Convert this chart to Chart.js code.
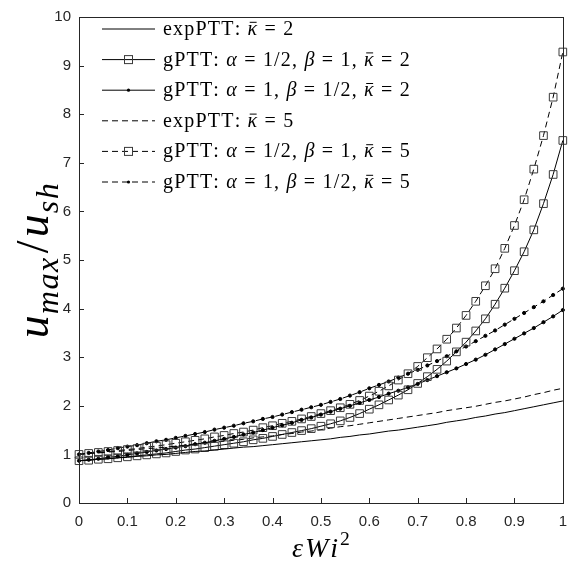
<!DOCTYPE html>
<html>
<head>
<meta charset="utf-8">
<script src="https://cdn.jsdelivr.net/npm/chart.js@4.4.1/dist/chart.umd.min.js"></script>
<style>
  html, body { margin: 0; padding: 0; background: #fff; }
</style>
</head>
<body>
<canvas id="grafico" width="577" height="565"></canvas>
<script>
// eps*Wi^2 grid (step 0.02)
const xValues = [0,0.02,0.04,0.06,0.08,0.1,0.12,0.14,0.16,0.18,0.2,0.22,0.24,0.26,0.28,0.3,0.32,0.34,0.36,0.38,
  0.4,0.42,0.44,0.46,0.48,0.5,0.52,0.54,0.56,0.58,0.6,0.62,0.64,0.66,0.68,0.7,0.72,0.74,0.76,0.78,
  0.8,0.82,0.84,0.86,0.88,0.9,0.92,0.94,0.96,0.98,1];

// u_max / u_sh
const expPTT_k2 = [0.87,0.88,0.90,0.91,0.93,0.94,0.96,0.97,0.99,1.00,
  1.02,1.04,1.06,1.07,1.09,1.11,1.13,1.15,1.16,1.18,
  1.20,1.22,1.24,1.26,1.28,1.30,1.32,1.35,1.37,1.40,
  1.42,1.45,1.48,1.50,1.53,1.56,1.59,1.62,1.66,1.69,
  1.72,1.76,1.79,1.83,1.86,1.90,1.94,1.98,2.02,2.06,2.10];
const gPTT_a05_k2 = [0.87,0.88,0.90,0.91,0.93,0.95,0.97,0.99,1.01,1.03,
  1.06,1.09,1.11,1.14,1.17,1.20,1.23,1.26,1.30,1.33,
  1.37,1.41,1.45,1.49,1.53,1.58,1.63,1.69,1.76,1.84,
  1.93,2.02,2.12,2.22,2.33,2.46,2.60,2.75,2.92,3.11,
  3.31,3.54,3.79,4.09,4.42,4.78,5.17,5.62,6.16,6.76,7.46];
const gPTT_a1_k2 = [0.87,0.89,0.91,0.94,0.96,0.99,1.02,1.05,1.08,1.11,
  1.14,1.17,1.21,1.24,1.28,1.32,1.36,1.41,1.45,1.50,
  1.55,1.60,1.65,1.71,1.76,1.82,1.88,1.94,2.00,2.06,
  2.12,2.18,2.25,2.31,2.38,2.45,2.53,2.61,2.69,2.77,
  2.86,2.95,3.05,3.16,3.27,3.38,3.49,3.60,3.72,3.84,3.97];
const expPTT_k5 = [1.00,1.02,1.03,1.05,1.06,1.08,1.10,1.12,1.13,1.15,
  1.17,1.19,1.21,1.23,1.25,1.27,1.29,1.31,1.34,1.36,
  1.38,1.41,1.43,1.46,1.48,1.51,1.54,1.57,1.59,1.62,
  1.65,1.68,1.71,1.74,1.77,1.80,1.83,1.86,1.90,1.93,
  1.96,1.99,2.03,2.07,2.10,2.14,2.18,2.23,2.27,2.32,2.36];
const gPTT_a05_k5 = [1.00,1.02,1.04,1.06,1.08,1.10,1.12,1.15,1.17,1.20,
  1.23,1.26,1.29,1.32,1.36,1.39,1.43,1.46,1.50,1.55,
  1.59,1.64,1.68,1.73,1.78,1.84,1.90,1.96,2.03,2.11,
  2.20,2.30,2.41,2.53,2.66,2.81,2.99,3.17,3.37,3.60,
  3.86,4.15,4.47,4.82,5.24,5.71,6.24,6.87,7.56,8.35,9.28];
const gPTT_a1_k5 = [1.00,1.03,1.06,1.09,1.13,1.16,1.19,1.23,1.27,1.30,
  1.34,1.38,1.42,1.46,1.51,1.55,1.59,1.64,1.68,1.73,
  1.77,1.82,1.87,1.92,1.97,2.02,2.08,2.14,2.21,2.28,
  2.36,2.43,2.50,2.58,2.66,2.74,2.83,2.92,3.02,3.12,
  3.22,3.33,3.44,3.55,3.67,3.79,3.91,4.03,4.15,4.28,4.41];

const seriesNames = [
  "expPTT: κ\u0304 = 2",
  "gPTT: α = 1/2, β = 1, κ\u0304 = 2",
  "gPTT: α = 1, β = 1/2, κ\u0304 = 2",
  "expPTT: κ\u0304 = 5",
  "gPTT: α = 1/2, β = 1, κ\u0304 = 5",
  "gPTT: α = 1, β = 1/2, κ\u0304 = 5"
];
const seriesValues = [expPTT_k2, gPTT_a05_k2, gPTT_a1_k2, expPTT_k5, gPTT_a05_k5, gPTT_a1_k5];

const xTickLabels = ["0","0.1","0.2","0.3","0.4","0.5","0.6","0.7","0.8","0.9","1"];
const yTickLabels = ["0","1","2","3","4","5","6","7","8","9","10"];

const ink = "#262626";
const dashed = [6, 4];
const estilos = [
  { dash: [], marker: null },
  { dash: [], marker: "rect" },
  { dash: [], marker: "dot" },
  { dash: dashed, marker: null },
  { dash: dashed, marker: "rect" },
  { dash: dashed, marker: "dot" }
];

const datasets = seriesValues.map((vals, i) => {
  const e = estilos[i];
  return {
    label: seriesNames[i],
    data: vals.map((v, k) => ({ x: xValues[k], y: v })),
    borderColor: "#000",
    borderWidth: 1,
    borderDash: e.dash,
    fill: false,
    clip: false,
    pointStyle: e.marker === "rect" ? "rect" : "circle",
    pointRadius: e.marker === "rect" ? 5.4 : (e.marker === "dot" ? 1.6 : 0),
    pointBorderColor: e.marker === "rect" ? "#3a3a3a" : "#000",
    pointBackgroundColor: e.marker === "rect" ? "rgba(0,0,0,0)" : "#000",
    pointBorderWidth: 1
  };
});

// text with italic greek letters and bars (κ̄), extra letter spacing
function textoMat(ctx, str, x, y, size, esp) {
  let cx = x;
  const chars = Array.from(str);
  for (let k = 0; k < chars.length; k++) {
    const c = chars[k];
    if (c === "\u0304") continue;
    const it = /[α-ω]/.test(c);
    ctx.font = (it ? "italic " : "") + size + "px 'Liberation Serif'";
    ctx.fillText(c, cx, y);
    const w = ctx.measureText(c).width;
    if (chars[k + 1] === "\u0304") {
      ctx.fillRect(cx + w * 0.22, y - size * 0.66, w * 0.72, 1);
    }
    cx += w + esp;
  }
  return cx - x;
}

function runs(ctx, parts, x, y, size, medir) {
  let cx = x;
  parts.forEach(p => {
    const s = p.sub || p.sup ? size * 0.7 : size;
    ctx.font = (p.it ? "italic " : "") + s + "px 'Liberation Serif'";
    const dy = p.sub ? size * 0.22 : (p.sup ? -size * 0.42 : 0);
    Array.from(p.t).forEach(c => {
      if (!medir) ctx.fillText(c, cx, y + dy);
      cx += ctx.measureText(c).width + (p.esp || 0);
    });
    cx += p.gap || 0;
  });
  return cx - x;
}

const decoracion = {
  id: "decoracion",
  afterDraw(chart) {
    const ctx = chart.ctx;
    const a = chart.chartArea;
    const sx = chart.scales.x, sy = chart.scales.y;
    ctx.save();
    ctx.strokeStyle = ink;
    ctx.lineWidth = 1;
    ctx.setLineDash([]);
    ctx.strokeRect(Math.round(a.left) + 0.5, Math.round(a.top) + 0.5,
      Math.round(a.right - a.left), Math.round(a.bottom - a.top));
    ctx.beginPath();
    sx.ticks.forEach(t => {
      const px = Math.round(sx.getPixelForValue(t.value)) + 0.5;
      ctx.moveTo(px, a.bottom); ctx.lineTo(px, a.bottom - 5);
    });
    sy.ticks.forEach(t => {
      const py = Math.round(sy.getPixelForValue(t.value)) + 0.5;
      ctx.moveTo(a.left, py); ctx.lineTo(a.left + 5, py);
    });
    ctx.stroke();

    // legend
    ctx.fillStyle = "#000";
    ctx.textBaseline = "alphabetic";
    ctx.textAlign = "left";
    chart.data.datasets.forEach((ds, i) => {
      const yc = 28.5 + 30.6 * i;
      ctx.strokeStyle = "#000";
      ctx.lineWidth = 1;
      ctx.setLineDash(ds.borderDash);
      ctx.beginPath();
      ctx.moveTo(102, yc + 0.5); ctx.lineTo(155, yc + 0.5);
      ctx.stroke();
      ctx.setLineDash([]);
      if (estilos[i].marker === "rect") {
        ctx.strokeStyle = "#3a3a3a";
        ctx.strokeRect(124.5, yc - 3.5, 8, 8);
      } else if (estilos[i].marker === "dot") {
        ctx.beginPath(); ctx.arc(128.5, yc + 0.5, 1.6, 0, Math.PI * 2); ctx.fill();
      }
      textoMat(ctx, ds.label, 163, yc + 6.5, 20, 1.2);
    });

    // axis titles
    const xt = [{ t: "εWi", it: true, esp: 2, gap: 0 }, { t: "2", sup: true }];
    const wx = runs(ctx, xt, 0, 0, 28, true);
    runs(ctx, xt, (a.left + a.right) / 2 - wx / 2, 557, 28);

    const yt = [{ t: "u", it: true, esp: 1 }, { t: "max", it: true, sub: true, esp: 1.5, gap: 3 },
                { t: "/", it: false, esp: 0, gap: 3 },
                { t: "u", it: true, esp: 1 }, { t: "sh", it: true, sub: true, esp: 1.5 }];
    ctx.save();
    ctx.translate(48, (a.top + a.bottom) / 2);
    ctx.rotate(-Math.PI / 2);
    const wy = runs(ctx, yt, 0, 0, 46, true);
    runs(ctx, yt, -wy / 2, 0, 46);
    ctx.restore();
    ctx.restore();
  }
};

new Chart(document.getElementById("grafico"), {
  type: "line",
  data: { datasets: datasets },
  options: {
    responsive: false,
    animation: false,
    layout: { padding: { top: 13, right: 9, left: 0, bottom: 0 } },
    plugins: { legend: { display: false }, tooltip: { enabled: false } },
    elements: { line: { tension: 0 } },
    scales: {
      x: {
        type: "linear", min: 0, max: 1,
        afterFit: s => { s.height = 62; },
        grid: { display: false, drawTicks: false },
        border: { display: false },
        ticks: {
          stepSize: 0.1, autoSkip: false, maxRotation: 0, padding: 10,
          color: ink, font: { family: "'Liberation Sans'", size: 15 },
          callback: (v, i) => xTickLabels[i]
        }
      },
      y: {
        type: "linear", min: 0, max: 10,
        afterFit: s => { s.width = 79; },
        grid: { display: false, drawTicks: false },
        border: { display: false },
        ticks: {
          stepSize: 1, padding: 8,
          color: ink, font: { family: "'Liberation Sans'", size: 15 },
          callback: (v, i) => yTickLabels[i]
        }
      }
    }
  },
  plugins: [decoracion]
});
</script>
</body>
</html>
